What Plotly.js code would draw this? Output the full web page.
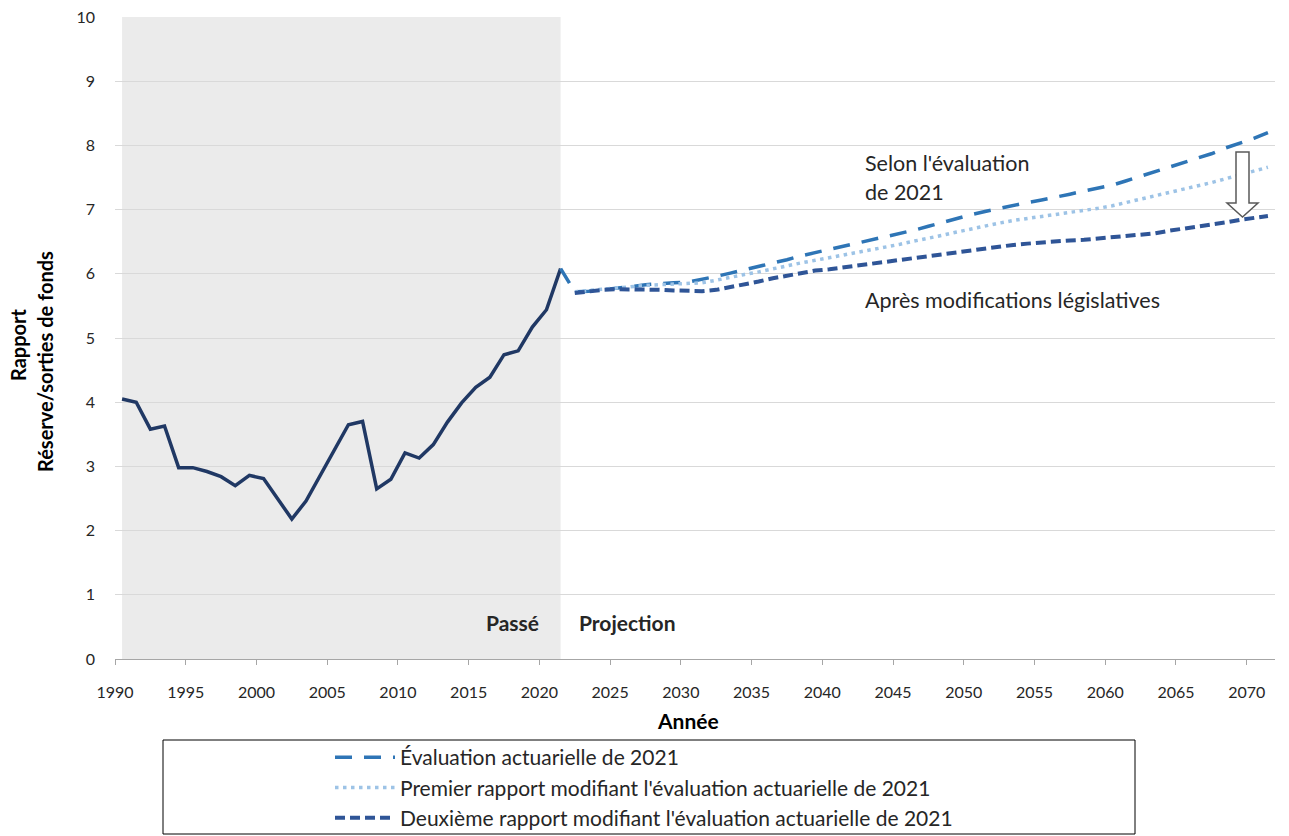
<!DOCTYPE html>
<html>
<head>
<meta charset="utf-8">
<script src="https://cdn.plot.ly/plotly-3.0.1.min.js"></script>
<style>html,body{margin:0;padding:0;background:#fff;}#chart{width:1289px;height:836px;}</style>
</head>
<body>
<div id="chart"></div>
<script>
// ---- Data ----
const histYears = [1990,1991,1992,1993,1994,1995,1996,1997,1998,1999,2000,2001,2002,2003,2004,2005,2006,2007,2008,2009,2010,2011,2012,2013,2014,2015,2016,2017,2018,2019,2020,2021];
const histValues = [4.05,4.00,3.58,3.63,2.98,2.98,2.92,2.84,2.70,2.86,2.81,2.50,2.18,2.46,2.85,3.25,3.65,3.70,2.65,2.80,3.21,3.13,3.34,3.69,3.99,4.23,4.39,4.74,4.80,5.17,5.44,6.08];

const evalYears = [2021,2022,2023,2024,2025,2026,2027,2028,2029,2030,2031,2032,2033,2034,2035,2036,2037,2038,2039,2040,2041,2042,2043,2044,2045,2046,2047,2048,2049,2050,2051,2052,2053,2054,2055,2056,2057,2058,2059,2060,2061,2062,2063,2064,2065,2066,2067,2068,2069,2070,2071];
const evalValues = [6.08,5.72,5.73,5.75,5.78,5.80,5.83,5.85,5.86,5.87,5.91,5.96,6.01,6.06,6.11,6.17,6.22,6.28,6.33,6.37,6.42,6.47,6.52,6.58,6.63,6.68,6.74,6.80,6.87,6.92,6.97,7.02,7.07,7.11,7.15,7.19,7.24,7.29,7.33,7.38,7.45,7.52,7.59,7.66,7.72,7.79,7.87,7.96,8.03,8.11,8.20];

const projYears = [2022,2023,2024,2025,2026,2027,2028,2029,2030,2031,2032,2033,2034,2035,2036,2037,2038,2039,2040,2041,2042,2043,2044,2045,2046,2047,2048,2049,2050,2051,2052,2053,2054,2055,2056,2057,2058,2059,2060,2061,2062,2063,2064,2065,2066,2067,2068,2069,2070,2071];
const premierValues = [5.72,5.74,5.77,5.79,5.81,5.82,5.83,5.84,5.85,5.86,5.90,5.95,5.99,6.03,6.08,6.13,6.17,6.21,6.25,6.29,6.33,6.37,6.42,6.46,6.51,6.55,6.60,6.65,6.70,6.75,6.79,6.83,6.86,6.89,6.92,6.95,6.98,7.02,7.06,7.11,7.16,7.21,7.26,7.31,7.36,7.42,7.48,7.54,7.60,7.66];
const deuxiemeValues = [5.70,5.73,5.75,5.76,5.76,5.76,5.75,5.74,5.73,5.73,5.75,5.79,5.84,5.88,5.93,5.97,6.02,6.05,6.07,6.10,6.12,6.15,6.18,6.21,6.24,6.27,6.30,6.33,6.36,6.39,6.42,6.45,6.47,6.49,6.50,6.52,6.53,6.55,6.56,6.58,6.60,6.63,6.67,6.70,6.73,6.76,6.80,6.84,6.87,6.90];

const tickLabels = [1990,1995,2000,2005,2010,2015,2020,2025,2030,2035,2040,2045,2050,2055,2060,2065,2070];
const seriesNames = ["Évaluation actuarielle de 2021","Premier rapport modifiant l'évaluation actuarielle de 2021","Deuxième rapport modifiant l'évaluation actuarielle de 2021"];
const pastStart = 1990, pastEnd = 2021;

const FONT = "Lato, 'Noto Sans', sans-serif";

const traces = [
  {x: histYears, y: histValues, mode: 'lines', name: 'Historique', showlegend: false,
   line: {color: '#203864', width: 3.5}},
  {x: evalYears, y: evalValues, mode: 'lines', name: seriesNames[0], legendgroup: 'a',
   line: {color: '#2e75b6', width: 3.5, dash: '17px,12px'}},
  {x: projYears, y: premierValues, mode: 'lines', name: seriesNames[1], legendgroup: 'b',
   line: {color: '#9dc3e6', width: 3.5, dash: '3.5px,4.5px'}},
  {x: projYears, y: deuxiemeValues, mode: 'lines', name: seriesNames[2], legendgroup: 'c',
   line: {color: '#2f5597', width: 4, dash: '10px,5px'}}
];

const px = v => (v - 115) / 1160;
const py = v => (659 - v) / 642;

const layout = {
  width: 1289, height: 836,
  margin: {l: 115, r: 14, t: 17, b: 177, autoexpand: false},
  paper_bgcolor: '#ffffff', plot_bgcolor: '#ffffff',
  font: {family: FONT, size: 16, color: '#262626'},
  xaxis: {
    range: [1989.5, 2071.5],
    tickvals: tickLabels.map(t => t - 0.5),
    ticktext: tickLabels.map(String),
    ticks: 'outside', ticklen: 5, tickcolor: '#a6a6a6',
    showline: true, linecolor: '#a6a6a6', linewidth: 1,
    showgrid: false, zeroline: false, automargin: false, tickangle: 0,
    ticklabelstandoff: 14,
    tickfont: {family: FONT, size: 16, color: '#262626'}
  },
  yaxis: {
    range: [0, 10], dtick: 1,
    showgrid: true, gridcolor: '#d9d9d9', gridwidth: 1,
    zeroline: false, showline: false, ticks: '', ticklabelstandoff: 19, automargin: false,
    tickfont: {family: FONT, size: 16, color: '#262626'}
  },
  showlegend: true,
  legend: {
    x: px(330), y: py(737), xanchor: 'left', yanchor: 'top',
    bgcolor: 'rgba(0,0,0,0)', borderwidth: 0,
    font: {family: FONT, size: 21, color: '#262626'},
    tracegroupgap: 0, itemwidth: 60
  },
  shapes: [
    {type: 'rect', xref: 'x', yref: 'paper', x0: pastStart, x1: pastEnd, y0: 0, y1: 1,
     fillcolor: '#ebebeb', line: {width: 0}, layer: 'below'},
    {type: 'rect', xref: 'paper', yref: 'paper', x0: px(163), x1: px(1135), y0: py(740), y1: py(834),
     fillcolor: 'rgba(0,0,0,0)', line: {color: '#000000', width: 1}},
    {type: 'path', xref: 'paper', yref: 'paper',
     path: `M ${px(1236)} ${py(152)} L ${px(1249)} ${py(152)} L ${px(1249)} ${py(203)} L ${px(1258)} ${py(203)} L ${px(1242.5)} ${py(217)} L ${px(1227)} ${py(203)} L ${px(1236)} ${py(203)} Z`,
     fillcolor: '#ffffff', line: {color: '#595959', width: 1.5}}
  ],
  annotations: [
    {text: '<b>Rapport</b>', xref: 'paper', yref: 'paper', x: px(18), y: py(345), textangle: -90,
     showarrow: false, font: {family: FONT, size: 20, color: '#000'}, xanchor: 'center', yanchor: 'middle'},
    {text: '<b>Réserve/sorties de fonds</b>', xref: 'paper', yref: 'paper', x: px(45), y: py(362), textangle: -90,
     showarrow: false, font: {family: FONT, size: 20, color: '#000'}, xanchor: 'center', yanchor: 'middle'},
    {text: '<b>Année</b>', xref: 'paper', yref: 'paper', x: px(688), y: py(720),
     showarrow: false, font: {family: FONT, size: 21, color: '#000'}, xanchor: 'center', yanchor: 'middle'},
    {text: '<b>Passé</b>', xref: 'paper', yref: 'paper', x: px(541), y: py(622),
     showarrow: false, font: {family: FONT, size: 21, color: '#262626'}, xanchor: 'right', yanchor: 'middle'},
    {text: '<b>Projection</b>', xref: 'paper', yref: 'paper', x: px(577), y: py(622),
     showarrow: false, font: {family: FONT, size: 21, color: '#262626'}, xanchor: 'left', yanchor: 'middle'},
    {text: "Selon l'évaluation", xref: 'paper', yref: 'paper', x: px(863), y: py(163),
     showarrow: false, font: {family: FONT, size: 21.5, color: '#262626'}, xanchor: 'left', yanchor: 'middle'},
    {text: 'de 2021', xref: 'paper', yref: 'paper', x: px(863), y: py(192),
     showarrow: false, font: {family: FONT, size: 21.5, color: '#262626'}, xanchor: 'left', yanchor: 'middle'},
    {text: 'Après modifications législatives', xref: 'paper', yref: 'paper', x: px(863), y: py(300),
     showarrow: false, font: {family: FONT, size: 21.5, color: '#262626'}, xanchor: 'left', yanchor: 'middle'}
  ]
};

Plotly.newPlot('chart', traces, layout, {displayModeBar: false, staticPlot: true});
</script>
</body>
</html>
